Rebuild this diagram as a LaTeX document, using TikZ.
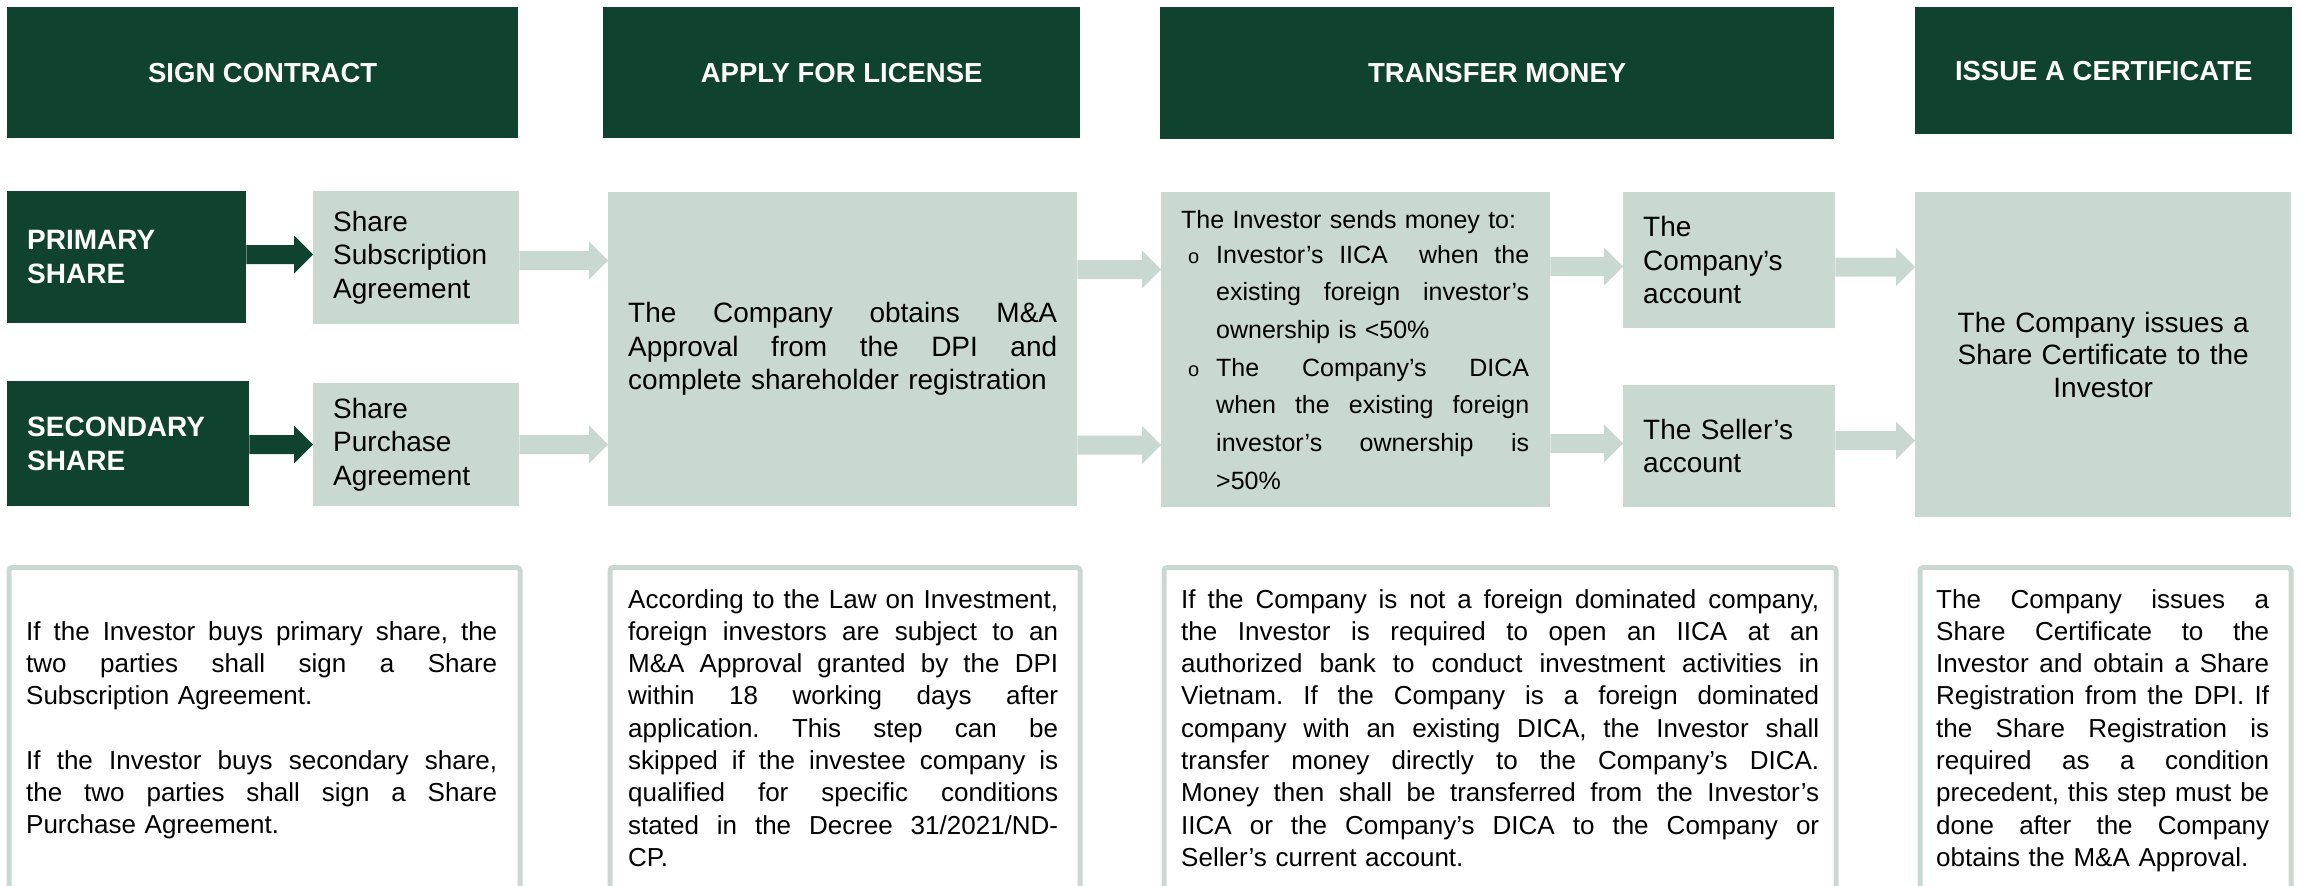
\documentclass[tikz,border=0pt]{standalone}
\usepackage{fontspec}
\setmainfont{Liberation Sans}
\usetikzlibrary{calc}
\definecolor{dkg}{RGB}{16,67,47}
\definecolor{ltg}{RGB}{201,217,210}
\setlength{\parindent}{0pt}
\frenchspacing
\newcommand\jl[2]{\makebox[#1][s]{\spaceskip=0pt\xspaceskip=0pt\relax #2}}
\newcommand\bul{{\fontsize{20}{20}\selectfont o}}
\tikzset{
  hdr/.style={fill=dkg, text=white, font=\bfseries\fontsize{27.5}{33}\selectfont, inner sep=0pt, anchor=north west, align=center},
  dkbox/.style={fill=dkg, text=white, font=\bfseries\fontsize{28}{33.5}\selectfont, inner xsep=20pt, inner ysep=0pt, anchor=north west},
  ltbox/.style={fill=ltg, text=black, font=\fontsize{28}{33.5}\selectfont, inner xsep=20pt, inner ysep=0pt, anchor=north west},
  botbox/.style={draw=ltg, line width=5pt, rounded corners=3pt, anchor=north west, inner sep=0pt},
  bottxt/.style={font=\fontsize{26}{32.3}\selectfont, inner sep=0pt, anchor=base west},
  blockarr/.style={to path={let \p1=(\tikztostart), \p2=(\tikztotarget) in (\x1,\y1+9.5pt) -- (\x2-19pt,\y1+9.5pt) -- (\x2-19pt,\y1+19pt) -- (\x2,\y1) -- (\x2-19pt,\y1-19pt) -- (\x2-19pt,\y1-9.5pt) -- (\x1,\y1-9.5pt) -- cycle}},
}
\begin{document}
\begin{tikzpicture}[x=1pt,y=-1pt]
\useasboundingbox (0,0) rectangle (2300,886);
\clip (0,0) rectangle (2300,886);
% headers
\node[hdr, minimum width=511, minimum height=131] (h1) at (7,7) {SIGN CONTRACT};
\node[hdr, minimum width=477, minimum height=131] (h2) at (603,7) {APPLY FOR LICENSE};
\node[hdr, minimum width=674, minimum height=132] (h3) at (1160,7) {TRANSFER MONEY};
\node[hdr, minimum width=377, minimum height=127] (h4) at (1915,7) {ISSUE A CERTIFICATE};
% row 2
\node[dkbox, minimum width=239, minimum height=132, text width=199pt] (ps) at (7,191) {PRIMARY\\SHARE};
\node[dkbox, minimum width=242, minimum height=125, text width=202pt] (ss) at (7,381) {SECONDARY\\SHARE};
\node[ltbox, minimum width=206, minimum height=133, text width=166pt] (ssa) at (313,191) {Share\\Subscription\\Agreement};
\node[ltbox, minimum width=206, minimum height=123, text width=166pt] (spa) at (313,383) {Share\\Purchase\\Agreement};
\node[ltbox, minimum width=469, minimum height=314, text width=429pt] (ma) at (608,192) {\jl{429pt}{The Company obtains M\&A}\\\jl{429pt}{Approval from the DPI and}\\complete shareholder registration};
\node[ltbox, font=\fontsize{25}{37.7}\selectfont, minimum width=389, minimum height=315, text width=349pt] (tr) at (1161,192) {The Investor sends money to:\\[-2.7pt]
\makebox[35pt][l]{\hspace{7pt}\bul}\jl{313pt}{Investor’s IICA \ when the}\\
\hspace*{35pt}\jl{313pt}{existing foreign investor’s}\\
\hspace*{35pt}ownership is <50\%\\
\makebox[35pt][l]{\hspace{7pt}\bul}\jl{313pt}{The Company’s DICA}\\
\hspace*{35pt}\jl{313pt}{when the existing foreign}\\
\hspace*{35pt}\jl{313pt}{investor’s ownership is}\\
\hspace*{35pt}>50\%};
\node[ltbox, minimum width=212, minimum height=136, text width=172pt] (ca) at (1623,192) {The\\Company’s\\account};
\node[ltbox, minimum width=212, minimum height=122, text width=172pt] (sa) at (1623,385) {The Seller’s\\account};
\node[ltbox, minimum width=376, minimum height=325, text width=336pt, align=center, font=\fontsize{28}{32.5}\selectfont] (ce) at (1915,192) {The Company issues a\\Share Certificate to the\\Investor};
% arrows
\fill[dkg] (ps.east |- 0,254.5) to[blockarr] (ssa.west |- 0,254.5);
\fill[dkg] (ss.east |- 0,444.5) to[blockarr] (spa.west |- 0,444.5);
\fill[ltg] (ssa.east |- 0,260.5) to[blockarr] (ma.west |- 0,260.5);
\fill[ltg] (spa.east |- 0,444.5) to[blockarr] (ma.west |- 0,444.5);
\fill[ltg] (ma.east |- 0,269.5) to[blockarr] (tr.west |- 0,269.5);
\fill[ltg] (ma.east |- 0,445) to[blockarr] (tr.west |- 0,445);
\fill[ltg] (tr.east |- 0,266.5) to[blockarr] (ca.west |- 0,266.5);
\fill[ltg] (tr.east |- 0,443.5) to[blockarr] (sa.west |- 0,443.5);
\fill[ltg] (ca.east |- 0,267) to[blockarr] (ce.west |- 0,267);
\fill[ltg] (sa.east |- 0,440.5) to[blockarr] (ce.west |- 0,440.5);
% bottom boxes
\node[botbox, minimum width=511, minimum height=400] (b1) at (6.5,565) {};
\node[botbox, minimum width=470, minimum height=400] (b2) at (607.5,565) {};
\node[botbox, minimum width=672, minimum height=400] (b3) at (1161.5,565) {};
\node[botbox, minimum width=371, minimum height=400] (b4) at (1917.5,565) {};
\node[bottxt, text width=471pt] (t1) at (26,640) {\jl{471pt}{If the Investor buys primary share, the}\\\jl{471pt}{two parties shall sign a Share}\\Subscription Agreement.\\[32.3pt]\jl{471pt}{If the Investor buys secondary share,}\\\jl{471pt}{the two parties shall sign a Share}\\Purchase Agreement.};
\node[bottxt, text width=430pt] (t2) at (628,608) {\jl{430pt}{According to the Law on Investment,}\\\jl{430pt}{foreign investors are subject to an}\\\jl{430pt}{M\&A Approval granted by the DPI}\\\jl{430pt}{within 18 working days after}\\\jl{430pt}{application. This step can be}\\\jl{430pt}{skipped if the investee company is}\\\jl{430pt}{qualified for specific conditions}\\\jl{430pt}{stated in the Decree 31/2021/ND-}\\CP.};
\node[bottxt, text width=638pt] (t3) at (1181,608) {\jl{638pt}{If the Company is not a foreign dominated company,}\\\jl{638pt}{the Investor is required to open an IICA at an}\\\jl{638pt}{authorized bank to conduct investment activities in}\\\jl{638pt}{Vietnam. If the Company is a foreign dominated}\\\jl{638pt}{company with an existing DICA, the Investor shall}\\\jl{638pt}{transfer money directly to the Company’s DICA.}\\\jl{638pt}{Money then shall be transferred from the Investor’s}\\\jl{638pt}{IICA or the Company’s DICA to the Company or}\\Seller’s current account.};
\node[bottxt, text width=333pt] (t4) at (1936,608) {\jl{333pt}{The Company issues a}\\\jl{333pt}{Share Certificate to the}\\\jl{333pt}{Investor and obtain a Share}\\\jl{333pt}{Registration from the DPI. If}\\\jl{333pt}{the Share Registration is}\\\jl{333pt}{required as a condition}\\\jl{333pt}{precedent, this step must be}\\\jl{333pt}{done after the Company}\\obtains the M\&A Approval.};
\end{tikzpicture}
\end{document}
